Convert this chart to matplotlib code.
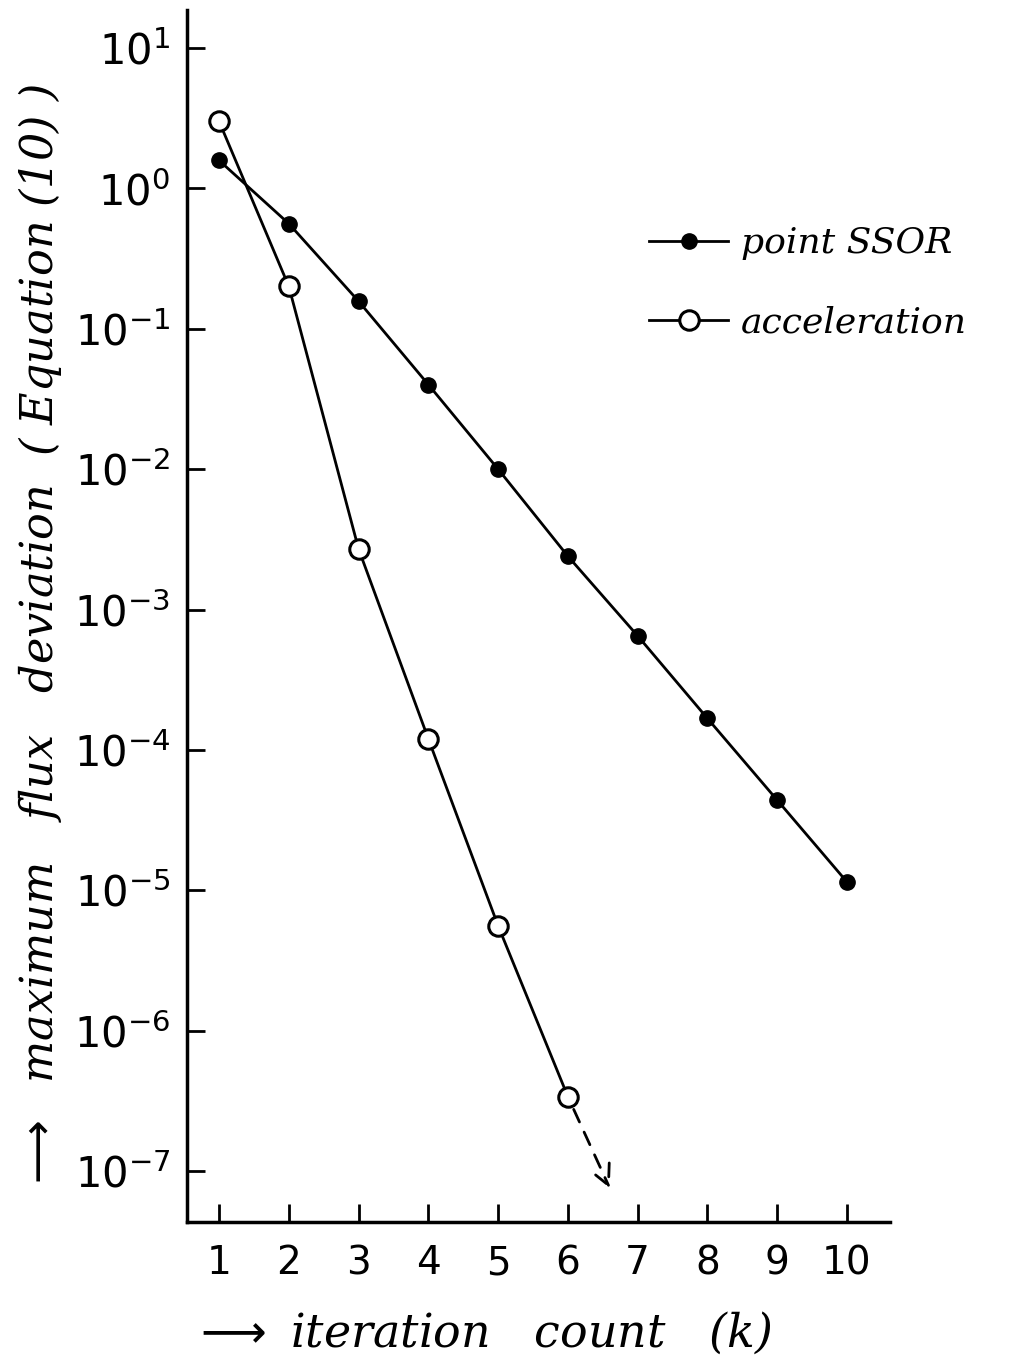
import matplotlib
matplotlib.use("Agg")
import matplotlib.pyplot as plt
from matplotlib.ticker import FixedLocator, FixedFormatter

k_ssor = [1, 2, 3, 4, 5, 6, 7, 8, 9, 10]
ssor = [1.58, 0.56, 0.157, 0.040, 0.010, 2.4e-3, 6.5e-4, 1.68e-4, 4.4e-5, 1.15e-5]
k_acc = [1, 2, 3, 4, 5, 6]
acc = [3.0, 0.20, 2.7e-3, 1.2e-4, 5.6e-6, 3.4e-7]
extrap_k = [6, 6.6]
extrap_v = [3.4e-7, 7.6e-8]
x_ticks = [1, 2, 3, 4, 5, 6, 7, 8, 9, 10]
y_exps = [1, 0, -1, -2, -3, -4, -5, -6, -7]

plt.rcParams['font.family'] = ['DejaVu Sans']
fig = plt.figure(figsize=(10.09, 13.63), dpi=100)
ax = fig.add_axes([0.1853, 0.1035, 0.697, 0.8892])

ax.plot(k_ssor, ssor, '-', color='black', lw=2, marker='o', ms=11,
        mfc='black', mec='black', label='point SSOR', zorder=3)
ax.plot(k_acc, acc, '-', color='black', lw=2, marker='o', ms=14,
        mfc='white', mec='black', mew=2.2, label='acceleration', zorder=3)
ax.annotate('', xy=(extrap_k[1], extrap_v[1]), xytext=(extrap_k[0], extrap_v[0]),
            arrowprops=dict(arrowstyle='->', color='black', lw=2,
                            linestyle=(0, (5, 4)), shrinkA=10, shrinkB=0,
                            mutation_scale=36))

ax.set_yscale('log')
ax.set_xlim(0.54, 10.62)
ax.set_ylim(10**-7.36, 10**1.27)

ax.yaxis.set_major_locator(FixedLocator([10.0**e for e in y_exps]))
ax.yaxis.set_major_formatter(FixedFormatter(['$10^{%d}$' % e for e in y_exps]))
ax.yaxis.set_minor_locator(FixedLocator([]))
ax.xaxis.set_major_locator(FixedLocator(x_ticks))
ax.xaxis.set_major_formatter(FixedFormatter([str(v) for v in x_ticks]))

ax.tick_params(axis='y', direction='in', length=13, width=2, labelsize=30, pad=12)
ax.tick_params(axis='x', direction='in', length=13, width=2, labelsize=28, pad=16)

for s in ['top', 'right']:
    ax.spines[s].set_visible(False)
for s in ['left', 'bottom']:
    ax.spines[s].set_linewidth(2.5)

fig.text(0.04, 0.532, r'$\longrightarrow$  maximum   flux   deviation  ( Equation (10) )',
         rotation=90, ha='center', va='center', fontsize=32, fontstyle='italic',
         family='DejaVu Serif')
fig.text(0.19, 0.022, r'$\longrightarrow$ iteration   count   (k)', ha='left', va='center',
         fontsize=33, fontstyle='italic', family='DejaVu Serif')

leg = fig.legend(handles=ax.get_lines()[:2], loc='upper left',
                 bbox_to_anchor=(0.643, 0.834), frameon=False,
                 borderpad=0, borderaxespad=0,
                 handlelength=2.2, handletextpad=0.35, labelspacing=1.25,
                 prop={'family': 'DejaVu Serif', 'style': 'italic', 'size': 26})

fig.savefig('out.png', dpi=100)
